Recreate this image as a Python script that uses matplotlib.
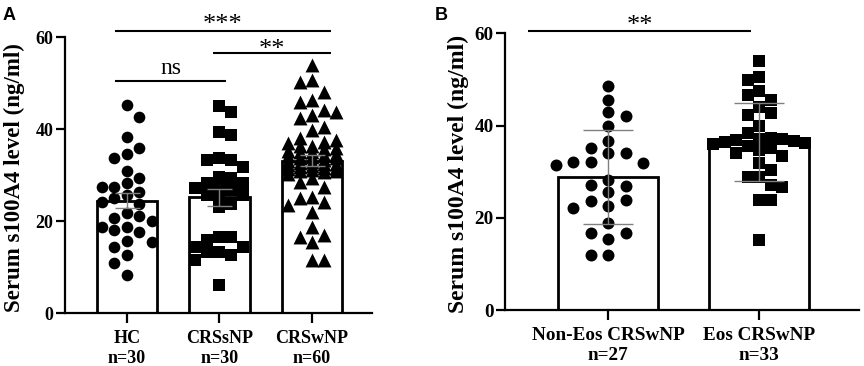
import numpy as np
import matplotlib
matplotlib.use('Agg')
import matplotlib.pyplot as plt

SERIF = 'Liberation Serif'
SANS = 'Liberation Sans'

# panel A data (ng/ml)
groups_a = ['HC\nn=30', 'CRSsNP\nn=30', 'CRSwNP\nn=60']
hc = [45.2, 42.7, 38.2, 35.8, 34.6, 33.6, 30.9, 29.3, 28.3, 27.5,
      27.3, 26.4, 25.7, 24.9, 24.2, 23.8, 21.1, 20.6, 21.7, 20.1,
      18.8, 18.8, 18.0, 17.7, 15.7, 15.5, 14.3, 12.6, 10.9, 8.3]
crssnp = [44.9, 43.8, 39.4, 38.7, 33.6, 33.3, 33.3, 31.8, 29.5, 29.3,
          28.2, 28.2, 27.1, 27.1, 26.7, 25.7, 25.7, 25.7, 23.8, 23.1,
          16.6, 16.6, 15.8, 14.4, 14.4, 13.3, 13.3, 12.6, 11.5, 6.1]
crswnp = [53.9, 50.7, 50.3, 48.1, 46.3, 45.9, 44.1, 43.8, 43.0, 42.3,
          40.5, 39.8, 38.0, 37.6, 37.1, 36.9, 36.4, 36.2, 35.8, 35.7,
          35.3, 35.1, 34.9, 34.6, 34.4, 34.2, 33.9, 33.7, 33.6, 33.2,
          33.0, 32.8, 32.7, 32.4, 32.1, 31.9, 31.8, 31.5, 31.2, 31.0,
          30.8, 30.6, 30.3, 30.9, 31.6, 32.5, 29.3, 28.5, 27.5, 25.3,
          24.9, 24.2, 23.5, 22.0, 18.8, 17.0, 16.6, 15.5, 11.5, 11.5]

# panel B data (ng/ml)
groups_b = ['Non-Eos CRSwNP\nn=27', 'Eos CRSwNP\nn=33']
non_eos = [48.6, 45.6, 42.1, 43.0, 39.9, 36.7, 35.1, 34.0, 34.0, 32.0,
           32.2, 31.5, 31.8, 28.2, 27.1, 26.9, 25.5, 23.9, 23.6, 22.6,
           22.1, 18.8, 16.6, 16.6, 15.3, 11.9, 11.9]
eos = [53.9, 50.6, 49.9, 47.4, 46.6, 45.6, 44.1, 42.7, 42.3, 39.9,
       38.3, 37.4, 37.1, 37.0, 36.8, 36.7, 36.5, 36.2, 35.9, 35.6,
       35.2, 34.8, 34.1, 33.5, 31.9, 30.4, 28.9, 28.9, 27.1, 26.7,
       23.9, 23.9, 15.2]


def swarm_offsets(ax, values, diam_px, step_px, maxk):
    """greedy column swarm, works in display pixels"""
    p0 = ax.transData.transform((0, 0))
    p1 = ax.transData.transform((1, 1))
    sx, sy = p1[0] - p0[0], p1[1] - p0[1]
    vals = np.asarray(values, dtype=float)
    ys = vals * sy
    cols = {}
    offs = np.zeros(len(vals))
    for n, i in enumerate(np.argsort(-vals, kind='stable')):
        cand = [0]
        for k in range(1, maxk + 1):
            cand += [k, -k] if n % 2 else [-k, k]
        best, best_over = None, None
        for k in cand:
            over = sum(max(0.0, diam_px - abs(ys[i] - y)) for y in cols.get(k, []))
            if over == 0:
                best = k
                break
            if best_over is None or over < best_over:
                best, best_over = k, over
        cols.setdefault(best, []).append(ys[i])
        offs[i] = best * step_px / sx
    return offs


def style_axes(ax, tick_fs, label_fs):
    for side in ('top', 'right'):
        ax.spines[side].set_visible(False)
    for side in ('left', 'bottom'):
        ax.spines[side].set_linewidth(1.6)
    ax.set_yticks([0, 20, 40, 60])
    ax.tick_params(axis='y', length=6.5, width=1.6, pad=1.5, labelsize=tick_fs)
    ax.tick_params(axis='x', length=7, width=1.6, pad=5, labelsize=tick_fs)
    for lab in ax.get_xticklabels() + ax.get_yticklabels():
        lab.set_fontfamily(SERIF)
        lab.set_fontweight('bold')
    for lab in ax.get_xticklabels():
        lab.set_linespacing(1.22)
    ax.set_ylabel('Serum s100A4 level (ng/ml)', fontsize=label_fs,
                  fontfamily=SERIF, fontweight='bold')


def sig_line(ax, x0, x1, y, text, ty, fs):
    ax.plot([x0, x1], [y, y], color='black', lw=1.5, clip_on=False,
            solid_capstyle='butt')
    ax.text((x0 + x1) / 2, ty, text, ha='center', va='baseline',
            fontsize=fs, fontfamily=SERIF, clip_on=False)


fig = plt.figure(figsize=(8.64, 3.66), dpi=100)

# ---- panel A ----
ax_a = fig.add_axes([0.0747, 0.1448, 0.3559, 0.7541])
ax_a.set_xlim(-0.671, 2.647)
ax_a.set_ylim(0, 60)
data_a = [hc, crssnp, crswnp]
x_a = np.arange(len(data_a))
means_a = [np.mean(d) for d in data_a]
sem_a = [np.std(d, ddof=1) / np.sqrt(len(d)) for d in data_a]
ax_a.bar(x_a, means_a, width=0.65, facecolor='white', edgecolor='black',
         linewidth=2.0, zorder=1)
marks_a = [('o', 8.4, 12.4, 2), ('s', 8.2, 12.0, 2), ('^', 10.0, 12.0, 2)]
for xi, d, (mk, ms, step, maxk) in zip(x_a, data_a, marks_a):
    offs = swarm_offsets(ax_a, d, ms * 1.389, step, maxk)
    ax_a.scatter(xi + offs, d, marker=mk, s=ms ** 2, color='black',
                 linewidths=0, zorder=3, clip_on=False)
ax_a.errorbar(x_a, means_a, yerr=sem_a, fmt='none', ecolor='#808080',
              elinewidth=1, capsize=9, capthick=1, zorder=4)
ax_a.set_xticks(x_a)
ax_a.set_xticklabels(groups_a)
style_axes(ax_a, 13, 16.5)
ax_a.yaxis.set_label_coords(-0.13, 0.49)
sig_line(ax_a, -0.126, 2.2, 61.3, '***', 61.3, 19)
sig_line(ax_a, 0.934, 2.2, 56.6, '**', 55.9, 19)
sig_line(ax_a, -0.126, 1.07, 50.5, 'ns', 52.0, 17)
fig.text(0.003, 0.945, 'A', fontsize=13, fontweight='bold', fontfamily=SANS)

# ---- panel B ----
ax_b = fig.add_axes([0.5841, 0.153, 0.4097, 0.756])
ax_b.set_xlim(-0.687, 1.66)
ax_b.set_ylim(0, 60)
data_b = [non_eos, eos]
x_b = np.arange(len(data_b))
means_b = [np.mean(d) for d in data_b]
sd_b = [np.std(d, ddof=1) for d in data_b]
ax_b.bar(x_b, means_b, width=0.665, facecolor='white', edgecolor='black',
         linewidth=2.0, zorder=1)
marks_b = [('o', 8.6, 17.5, 3), ('s', 8.4, 11.5, 4)]
for xi, d, (mk, ms, step, maxk) in zip(x_b, data_b, marks_b):
    offs = swarm_offsets(ax_b, d, ms * 1.389, step, maxk)
    ax_b.scatter(xi + offs, d, marker=mk, s=ms ** 2, color='black',
                 linewidths=0, zorder=3, clip_on=False)
ax_b.errorbar(x_b, means_b, yerr=sd_b, fmt='none', ecolor='#808080',
              elinewidth=1, capsize=18, capthick=1, zorder=4)
ax_b.set_xticks(x_b)
ax_b.set_xticklabels(groups_b)
style_axes(ax_b, 13.8, 17)
ax_b.yaxis.set_label_coords(-0.101, 0.49)
sig_line(ax_b, -0.533, 0.949, 60.5, '**', 60.3, 19)
fig.text(0.503, 0.945, 'B', fontsize=13, fontweight='bold', fontfamily=SANS)

fig.savefig('out.png', dpi=100)
